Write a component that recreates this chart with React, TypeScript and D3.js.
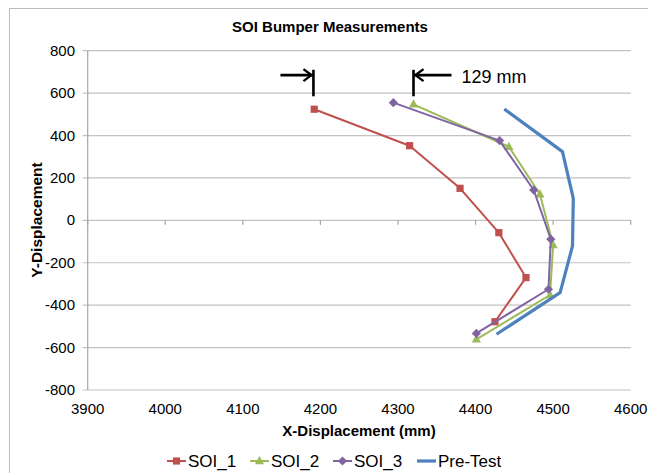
import React from "react";
import * as d3 from "d3";

// Measured bumper profiles (x, y in mm)
const soi1X = [4192, 4315, 4380, 4430, 4465, 4425];
const soi1Y = [524, 352, 151, -58, -270, -478];
const soi2X = [4320, 4443, 4483, 4500, 4496, 4401];
const soi2Y = [547, 347, 123, -116, -352, -561];
const soi3X = [4294, 4431, 4475, 4497, 4494, 4401];
const soi3Y = [555, 376, 143, -89, -325, -533];
const preX = [4437, 4512, 4526, 4525, 4509, 4427];
const preY = [525, 324, 104, -121, -341, -537];

const xTicks = [3900, 4000, 4100, 4200, 4300, 4400, 4500, 4600];
const yTicks = [800, 600, 400, 200, 0, -200, -400, -600, -800];

const seriesNames = ["SOI_1", "SOI_2", "SOI_3", "Pre-Test"];
const seriesColors = ["#C0504D", "#9BBB59", "#8064A2", "#4F81BD"];
const markerKinds = ["square", "triangle", "diamond", "none"];

// Gap annotation between the SOI_1 and SOI_2 top points
const gapFrom = 4191;
const gapTo = 4320;
const gapLabel = "129 mm";

const W = 648;
const H = 473;
const FONT = "'Liberation Sans', Arial, sans-serif";

const x = d3.scaleLinear().domain([3900, 4600]).range([87.7, 630.7]);
const y = d3.scaleLinear().domain([-800, 800]).range([390, 50.7]);

function Marker({ kind, cx, cy, color }: { kind: string; cx: number; cy: number; color: string }) {
  if (kind === "square") {
    return <rect x={cx - 3.6} y={cy - 3.6} width={7.2} height={7.2} fill={color} />;
  }
  if (kind === "triangle") {
    const s = 4.6;
    return (
      <path
        d={`M${cx},${cy - s - 0.5}L${cx + s},${cy + s * 0.7}L${cx - s},${cy + s * 0.7}Z`}
        fill={color}
      />
    );
  }
  if (kind === "diamond") {
    const s = 4.6;
    return <path d={`M${cx},${cy - s}L${cx + s},${cy}L${cx},${cy + s}L${cx - s},${cy}Z`} fill={color} />;
  }
  return null;
}

export default function App() {
  const series = [
    { xs: soi1X, ys: soi1Y },
    { xs: soi2X, ys: soi2Y },
    { xs: soi3X, ys: soi3Y },
    { xs: preX, ys: preY },
  ];
  const line = d3
    .line<[number, number]>()
    .x((d) => x(d[0]))
    .y((d) => y(d[1]));

  const legendX = [167, 250, 333, 417];
  const legendY = 461;

  const annTop = y(710);
  const annBot = y(585);
  const annY = y(685);
  const xa = x(gapFrom);
  const xb = x(gapTo);

  return (
    <svg
      width={W}
      height={H}
      style={{ position: "absolute", left: 0, top: 0, background: "#fff" }}
      fontFamily={FONT}
    >
      <rect x={9.5} y={8.5} width={700} height={520} fill="#fff" stroke="#bdbdbd" strokeWidth={1} />

      <text x={330} y={32} textAnchor="middle" fontSize={15} fontWeight="bold" fill="#000">
        SOI Bumper Measurements
      </text>

      {/* horizontal gridlines and y ticks */}
      {yTicks.map((t) => (
        <g key={"y" + t}>
          <line x1={82.7} x2={x(4600)} y1={y(t)} y2={y(t)} stroke="#c2c2c2" strokeWidth={1.2} />
          <text x={75} y={y(t) + 5} textAnchor="end" fontSize={15} fill="#000">
            {t}
          </text>
        </g>
      ))}
      <line x1={x(3900)} x2={x(3900)} y1={y(800)} y2={y(-800)} stroke="#a6a6a6" strokeWidth={1.2} />

      {/* x axis crossing at y = 0 with ticks; labels along the bottom */}
      {xTicks.map((t) => (
        <g key={"x" + t}>
          <line x1={x(t)} x2={x(t)} y1={y(0)} y2={y(0) + 4.5} stroke="#a6a6a6" strokeWidth={1.2} />
          <text x={x(t)} y={413.5} textAnchor="middle" fontSize={15} fill="#000">
            {t}
          </text>
        </g>
      ))}

      <text x={359} y={435.5} textAnchor="middle" fontSize={15} fontWeight="bold" fill="#000">
        X-Displacement (mm)
      </text>
      <text
        transform={`translate(42,220) rotate(-90)`}
        textAnchor="middle"
        fontSize={15.5}
        fontWeight="bold"
        fill="#000"
      >
        Y-Displacement
      </text>

      {/* data series */}
      {series.map((s, i) => {
        const pts = s.xs.map((v, k) => [v, s.ys[k]] as [number, number]);
        return (
          <g key={seriesNames[i]}>
            <path
              d={line(pts) || ""}
              fill="none"
              stroke={seriesColors[i]}
              strokeWidth={i === 3 ? 3.2 : 2}
              strokeLinejoin="round"
            />
            {pts.map((p, k) => (
              <Marker key={k} kind={markerKinds[i]} cx={x(p[0])} cy={y(p[1])} color={seriesColors[i]} />
            ))}
          </g>
        );
      })}

      {/* gap annotation */}
      <g stroke="#000" fill="none" strokeWidth={2.6}>
        <line x1={xa} x2={xa} y1={annTop} y2={annBot} />
        <line x1={xb} x2={xb} y1={annTop} y2={annBot} />
        <line x1={xa - 33} x2={xa - 1} y1={annY} y2={annY} />
        <polyline points={`${xa - 10},${annY - 6} ${xa - 2},${annY} ${xa - 10},${annY + 6}`} strokeWidth={2.4} />
        <line x1={xb + 1} x2={xb + 38} y1={annY} y2={annY} />
        <polyline points={`${xb + 10},${annY - 6} ${xb + 2},${annY} ${xb + 10},${annY + 6}`} strokeWidth={2.4} />
      </g>
      <text x={461.5} y={83} fontSize={18} fill="#000">
        {gapLabel}
      </text>

      {/* legend */}
      {seriesNames.map((name, i) => {
        const lx = legendX[i];
        return (
          <g key={"lg" + name}>
            <line
              x1={lx}
              x2={lx + 19}
              y1={legendY}
              y2={legendY}
              stroke={seriesColors[i]}
              strokeWidth={i === 3 ? 3.2 : 2}
            />
            <Marker kind={markerKinds[i]} cx={lx + 9.5} cy={legendY} color={seriesColors[i]} />
            <text x={lx + 21} y={legendY + 6} fontSize={17} fill="#000">
              {name}
            </text>
          </g>
        );
      })}
    </svg>
  );
}
